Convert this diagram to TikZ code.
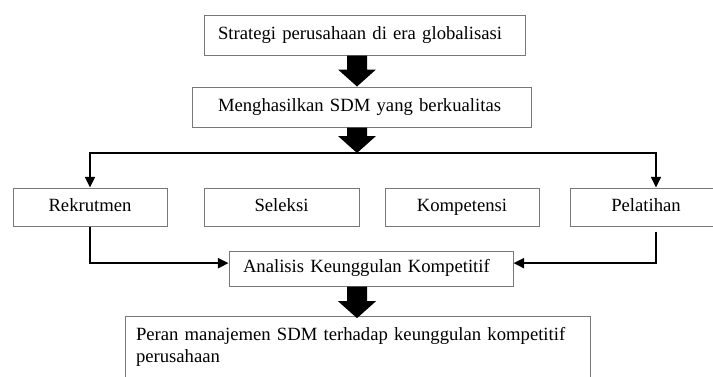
\documentclass[tikz,border=0pt]{standalone}
\usepackage{fontspec}
\setmainfont{Liberation Serif}
\usetikzlibrary{arrows.meta, calc}
\definecolor{boxline}{RGB}{120,120,120}

% grosse fleche pleine (haut, pointe)
\newcommand{\bigarrow}[2]{%
  \fill ($(#1)+(-10,0)$) -- ($(#2)+(-10,-17)$) -- ($(#2)+(-19,-17)$) -- (#2)
    -- ($(#2)+(19,-17)$) -- ($(#2)+(10,-17)$) -- ($(#1)+(10,0)$) -- cycle;}

\begin{document}
\begin{tikzpicture}[x=0.75pt, y=-0.75pt, >={Triangle[width=7.5pt, length=8pt]},
  box/.style={draw=boxline, line width=0.75pt, inner sep=0pt, minimum height=28.5pt,
    font=\fontsize{14}{16.5}\selectfont},
  oneline/.style={box, text height=9.5pt, text depth=3pt},
  conn/.style={->, line width=1.5pt}]

\useasboundingbox (0,0) rectangle (713,376);
\clip (0,0) rectangle (713,376);

% Boites du haut
\node[oneline, minimum height=30pt, align=left, text width=219.75pt, inner xsep=10.5pt]
  (strat) at (364.5,35) {Strategi perusahaan di era globalisasi};
\node[oneline, minimum height=30pt, align=left, text width=215.25pt, inner xsep=19.5pt]
  (sdm) at (361.5,107) {Menghasilkan SDM yang berkualitas};

% Rangee des quatre fonctions
\node[oneline, minimum width=115.5pt] (rek) at (90,207) {Rekrutmen};
\node[oneline, minimum width=116.25pt] (sel) at (281.5,207) {Seleksi};
\node[oneline, minimum width=115.5pt] (komp) at (462,207) {Kompetensi};
\node[oneline, minimum width=129pt] (pel) at (656,207) {\hspace*{-15pt}Pelatihan};

% Analyse et resultat
\node[oneline, minimum height=26.25pt, align=left, text width=192pt, inner xsep=10.5pt]
  (anal) at (371,268.5) {Analisis Keunggulan Kompetitif};
\node[box, minimum height=46.5pt, align=left, text width=332.25pt, inner xsep=8.25pt]
  (peran) at (357.5,347) {Peran manajemen SDM terhadap keunggulan kompetitif\\perusahaan};

% Points de passage
\coordinate (split) at (357,153);
\coordinate (a1) at (strat.south -| split);
\coordinate (t1) at (sdm.north -| split);
\coordinate (a2) at (sdm.south -| split);
\coordinate (a3) at (anal.south -| split);
\coordinate (t3) at ([yshift=-2pt]peran.north -| split);

% Grosses fleches
\bigarrow{a1}{t1}
\bigarrow{a2}{split}
\bigarrow{a3}{t3}

% Connecteurs
\draw[conn] (split) -| (rek.north);
\draw[conn] (split) -| (pel.north);
\draw[conn] (rek.south) |- ([yshift=4pt]anal.west);
\draw[conn] ([yshift=-3.75pt]pel.south) |- ([yshift=4pt]anal.east);

\end{tikzpicture}
\end{document}
